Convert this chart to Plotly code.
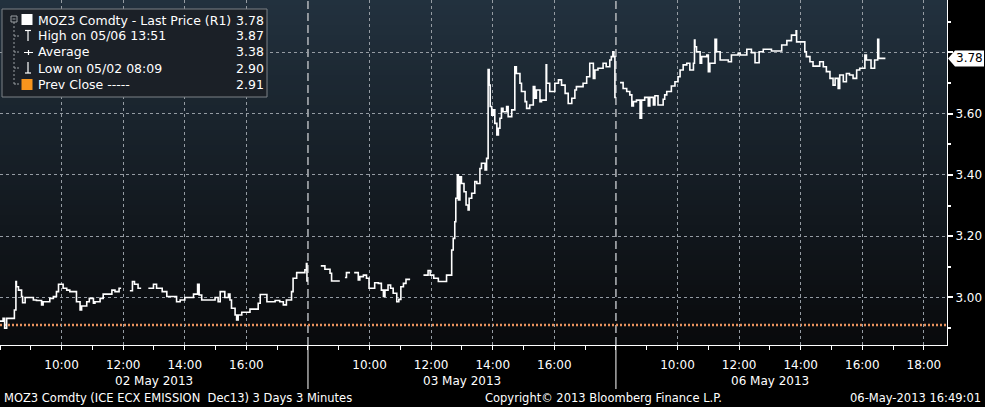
import plotly.graph_objects as go

# ---------------- data ----------------
day_labels = ["02 May 2013", "03 May 2013", "06 May 2013"]

day1_times = ["08:00", "08:06", "08:09", "08:13", "08:28", "08:31", "08:32", "08:36", "08:42", "08:44",
              "08:49", "09:05", "09:11", "09:21", "09:24", "09:37", "09:44", "09:50", "09:54", "10:03",
              "10:10", "10:16", "10:29", "10:36", "10:39", "10:49", "10:54", "11:02", "11:05", "11:15",
              "11:21", "11:38", "11:44", "11:52", "11:56", "11:57", "12:13", "12:18", "12:22", "12:29",
              "12:35", "12:36", "12:49", "12:59", "13:05", "13:16", "13:25", "13:44", "13:51", "14:00",
              "14:17", "14:25", "14:28", "14:33", "14:59", "15:05", "15:09", "15:18", "15:25", "15:28",
              "15:31", "15:38", "15:41", "15:44", "15:51", "16:07", "16:23", "16:27", "16:40", "16:56",
              "17:05", "17:12", "17:18", "17:28", "17:31", "17:38", "17:54", "17:57", "17:58", "18:00"]
day1_prices = [2.923, 2.932, 2.900, 2.932, 2.959, 3.052, 3.035, 3.024, 3.003, 2.983,
               3.000, 2.992, 2.990, 2.976, 2.986, 2.997, 3.003, 3.019, 3.043, 3.030,
               3.024, 3.019, 2.986, 2.959, 2.972, 2.986, 2.997, 2.981, 2.986, 2.997,
               3.011, 3.024, 3.019, 3.030, 3.030, None, 3.022, 3.052, 3.043, 3.030,
               3.030, None, 3.030, 3.043, 3.030, 3.019, 3.003, 2.986, 2.992, 3.000,
               3.011, 3.043, 3.008, 2.992, 3.000, 2.986, 3.019, 3.000, 3.011, 2.992,
               2.965, 2.943, 2.927, 2.943, 2.952, 2.962, 2.981, 3.010, 2.986, 2.990,
               2.986, 2.976, 2.992, 3.019, 3.063, 3.081, 3.090, 3.111, 3.054, 3.054]

day2_times = ["08:25", "08:33", "08:43", "08:46", "09:02", "09:03", "09:12", "09:15", "09:22", "09:23",
              "09:30", "09:38", "09:41", "09:48", "09:54", "09:59", "10:10", "10:17", "10:23", "10:27",
              "10:30", "10:36", "10:41", "10:46", "10:53", "10:57", "11:01", "11:06", "11:11", "11:19",
              "11:20", "11:45", "11:54", "11:58", "12:05", "12:14", "12:20", "12:30", "12:40", "12:43",
              "12:46", "12:48", "12:51", "12:53", "12:56", "12:59", "13:04", "13:08", "13:12", "13:14",
              "13:19", "13:25", "13:29", "13:35", "13:38", "13:45", "13:48", "13:51", "13:53", "13:55",
              "13:58", "14:01", "14:04", "14:08", "14:11", "14:14", "14:17", "14:20", "14:27", "14:30",
              "14:37", "14:43", "14:46", "14:53", "14:56", "15:03", "15:06", "15:12", "15:19", "15:22",
              "15:25", "15:32", "15:35", "15:44", "15:45", "15:51", "16:01", "16:08", "16:14", "16:21",
              "16:27", "16:34", "16:40", "16:43", "16:56", "17:03", "17:09", "17:16", "17:19", "17:25",
              "17:35", "17:41", "17:48", "17:51", "17:54", "17:56", "17:58", "18:00"]
day2_prices = [3.103, 3.092, 3.079, 3.054, 3.054, None, 3.065, 3.081, 3.081, None,
               3.081, 3.057, 3.068, 3.073, 3.063, 3.030, 3.048, 3.046, 3.024, 3.003,
               3.024, 3.041, 3.030, 3.014, 2.986, 2.994, 3.035, 3.046, 3.059, 3.059,
               None, 3.073, 3.088, 3.073, 3.063, 3.052, 3.052, 3.073, 3.155, 3.193,
               3.247, 3.324, 3.400, 3.318, 3.394, 3.372, 3.345, 3.302, 3.286, 3.324,
               3.340, 3.378, 3.372, 3.421, 3.438, 3.416, 3.454, 3.744, 3.693, 3.623,
               3.595, 3.612, 3.568, 3.530, 3.552, 3.585, 3.617, 3.606, 3.623, 3.590,
               3.612, 3.753, 3.731, 3.699, 3.672, 3.639, 3.617, 3.628, 3.688, 3.650,
               3.677, 3.639, 3.644, 3.759, 3.699, 3.672, 3.699, 3.710, 3.693, 3.666,
               3.633, 3.650, 3.677, 3.688, 3.699, 3.720, 3.764, 3.715, 3.742, 3.748,
               3.764, 3.753, 3.775, 3.786, 3.802, 3.786, 3.653, 3.653]

day3_times = ["08:08", "08:14", "08:21", "08:27", "08:31", "08:34", "08:40", "08:47", "08:50", "08:56",
              "09:03", "09:06", "09:13", "09:16", "09:22", "09:32", "09:35", "09:39", "09:48", "09:55",
              "10:01", "10:05", "10:11", "10:18", "10:24", "10:31", "10:33", "10:34", "10:37", "10:44",
              "10:47", "10:57", "11:00", "11:03", "11:13", "11:16", "11:23", "11:39", "11:45", "11:58",
              "12:02", "12:15", "12:24", "12:31", "12:39", "12:47", "13:03", "13:23", "13:33", "13:42",
              "13:51", "13:52", "14:08", "14:11", "14:18", "14:24", "14:37", "14:44", "14:50", "14:57",
              "15:03", "15:07", "15:13", "15:16", "15:23", "15:29", "15:35", "15:42", "15:49", "15:55",
              "16:05", "16:08", "16:17", "16:24", "16:30", "16:32", "16:45"]
day3_prices = [3.701, 3.682, 3.672, 3.661, 3.625, 3.639, 3.644, 3.585, 3.644, 3.653,
               3.625, 3.653, 3.628, 3.658, 3.628, 3.647, 3.661, 3.672, 3.690, 3.704,
               3.720, 3.742, 3.759, 3.764, 3.742, 3.764, 3.840, 3.818, 3.802, 3.764,
               3.786, 3.791, 3.737, 3.764, 3.842, 3.802, 3.775, 3.769, 3.791, 3.797,
               3.791, 3.810, 3.799, 3.766, 3.802, 3.810, 3.804, 3.824, 3.838, 3.856,
               3.870, 3.834, 3.802, 3.786, 3.769, 3.755, 3.769, 3.753, 3.737, 3.715,
               3.693, 3.715, 3.682, 3.726, 3.704, 3.731, 3.726, 3.715, 3.742, 3.748,
               3.791, 3.775, 3.748, 3.775, 3.842, 3.780, 3.780]

tick_hours = ["10:00", "12:00", "14:00", "16:00", "18:00"]
y_ticks = [3.0, 3.2, 3.4, 3.6, 3.8]
y_ticktext = ["3.00", "3.20", "3.40", "3.60", ""]

last_price = 3.78
high_price = 3.87
avg_price = 3.38
low_price = 2.90
prev_close = 2.91

legend_rows = ["MOZ3 Comdty - Last Price (R1)", "High on 05/06 13:51", "Average",
               "Low on 05/02 08:09", "Prev Close -----"]
legend_vals = [last_price, high_price, avg_price, low_price, prev_close]

# ---------------- layout constants ----------------
W, H = 985, 407
PW, PH = 947, 345          # plot area in pixels
SESSION_START, SESSION_LEN = 8, 10   # each day shown 08:00-18:00
X_MAX = 30.75
Y_MIN, Y_MAX = 2.845, 3.9706
FONT = "DejaVu Sans"


def px(x):
    return x / PW


def py(y):
    return 1 - y / PH


def to_x(day_idx, t):
    h, m = t.split(":")
    return day_idx * SESSION_LEN + int(h) + int(m) / 60 - SESSION_START


fig = go.Figure()

for d, (times, prices) in enumerate([(day1_times, day1_prices),
                                      (day2_times, day2_prices),
                                      (day3_times, day3_prices)]):
    fig.add_trace(go.Scatter(
        x=[to_x(d, t) for t in times], y=prices, mode="lines",
        line=dict(color="white", width=1.6, shape="hv"),
        connectgaps=False, showlegend=False, hoverinfo="skip"))

shapes = []
# background gradient
top = (34, 49, 62)
bot = (9, 10, 12)
n = 69
for i in range(n):
    f = i / (n - 1)
    c = tuple(round(top[k] + (bot[k] - top[k]) * f) for k in range(3))
    shapes.append(dict(type="rect", xref="paper", yref="paper", x0=0, x1=1,
                       y0=1 - (i + 1) / n, y1=1 - i / n, layer="below",
                       fillcolor="rgb(%d,%d,%d)" % c, line=dict(width=0)))

# day separators
for d in (1, 2):
    xs = d * SESSION_LEN
    shapes.append(dict(type="line", xref="x", yref="paper", x0=xs, x1=xs, y0=0, y1=1,
                       layer="below", line=dict(color="#b4b8bc", width=1.5, dash="8px,4px")))
    shapes.append(dict(type="line", xref="x", yref="paper", x0=xs, x1=xs, y0=py(389), y1=0,
                       line=dict(color="white", width=1)))

# previous close line
shapes.append(dict(type="line", xref="paper", yref="y", x0=0, x1=1, y0=prev_close, y1=prev_close,
                   layer="between", line=dict(color="#e8925e", width=2.5, dash="2px,2px")))

# last-price label on the right axis
dy = 8 / PH * (Y_MAX - Y_MIN)
shapes.append(dict(type="path", xref="paper", yref="y",
                   path="M %f,%f L %f,%f L %f,%f L %f,%f L %f,%f Z" % (
                       px(948), last_price, px(955), last_price + dy, px(984), last_price + dy,
                       px(984), last_price - dy, px(955), last_price - dy),
                   fillcolor="white", line=dict(width=0)))

# legend box
shapes.append(dict(type="rect", xref="paper", yref="paper", x0=px(2), x1=px(267),
                   y0=py(97), y1=py(9), layer="above", fillcolor="#1b2027",
                   line=dict(color="#7c8187", width=1)))
gray = "#9a9ea3"
# tree: collapse box and connectors
shapes.append(dict(type="rect", xref="paper", yref="paper", x0=px(11), x1=px(17), y0=py(22), y1=py(16),
                   layer="above", line=dict(color=gray, width=1)))
shapes.append(dict(type="line", xref="paper", yref="paper", x0=px(12.5), x1=px(15.5), y0=py(19), y1=py(19),
                   layer="above", line=dict(color=gray, width=1)))
shapes.append(dict(type="line", xref="paper", yref="paper", x0=px(14), x1=px(14), y0=py(84), y1=py(22),
                   layer="above", line=dict(color=gray, width=1, dash="2px,2px")))
row_y = [20, 36, 52, 68, 84]
for ry in row_y[1:]:
    shapes.append(dict(type="line", xref="paper", yref="paper", x0=px(14), x1=px(19), y0=py(ry), y1=py(ry),
                       layer="above", line=dict(color=gray, width=1, dash="2px,1px")))
# icons
shapes.append(dict(type="rect", xref="paper", yref="paper", x0=px(21.5), x1=px(32.5), y0=py(25), y1=py(14),
                   layer="above", fillcolor="white", line=dict(width=0)))
shapes.append(dict(type="line", xref="paper", yref="paper", x0=px(25), x1=px(31), y0=py(30.5), y1=py(30.5),
                   layer="above", line=dict(color="white", width=1.2)))
shapes.append(dict(type="line", xref="paper", yref="paper", x0=px(28), x1=px(28), y0=py(41), y1=py(30.5),
                   layer="above", line=dict(color="white", width=1.2)))
shapes.append(dict(type="line", xref="paper", yref="paper", x0=px(24), x1=px(33), y0=py(52.5), y1=py(52.5),
                   layer="above", line=dict(color="white", width=1)))
shapes.append(dict(type="line", xref="paper", yref="paper", x0=px(28.5), x1=px(28.5), y0=py(55), y1=py(50),
                   layer="above", line=dict(color="white", width=1.2)))
shapes.append(dict(type="line", xref="paper", yref="paper", x0=px(28), x1=px(28), y0=py(73), y1=py(62),
                   layer="above", line=dict(color="white", width=1.2)))
shapes.append(dict(type="line", xref="paper", yref="paper", x0=px(25), x1=px(31), y0=py(73), y1=py(73),
                   layer="above", line=dict(color="white", width=1.2)))
shapes.append(dict(type="rect", xref="paper", yref="paper", x0=px(21.5), x1=px(32.5), y0=py(90), y1=py(79),
                   layer="above", fillcolor="#f7941d", line=dict(width=0)))

annotations = []
for label, val, ry in zip(legend_rows, legend_vals, row_y):
    annotations.append(dict(text=label, xref="paper", yref="paper", x=px(36), y=py(ry),
                            xanchor="left", yanchor="middle", showarrow=False,
                            font=dict(family=FONT, size=12.5, color="white")))
    annotations.append(dict(text="%.2f" % val, xref="paper", yref="paper", x=px(234), y=py(ry),
                            xanchor="left", yanchor="middle", showarrow=False,
                            font=dict(family=FONT, size=12.5, color="white")))

# date labels under each session
for d, lab in enumerate(day_labels):
    annotations.append(dict(text=lab, xref="x", yref="paper", x=d * SESSION_LEN + SESSION_LEN / 2,
                            y=py(381), xanchor="center", yanchor="middle", showarrow=False,
                            font=dict(family=FONT, size=12, color="white")))

# footer
annotations.append(dict(text="MOZ3 Comdty (ICE ECX EMISSION  Dec13) 3 Days 3 Minutes", xref="paper",
                        yref="paper", x=px(2), y=py(398), xanchor="left", yanchor="middle",
                        showarrow=False, font=dict(family=FONT, size=11.5, color="white")))
annotations.append(dict(text="Copyright\u00a9 2013 Bloomberg Finance L.P.", xref="paper", yref="paper",
                        x=px(483), y=py(398), xanchor="left", yanchor="middle", showarrow=False,
                        font=dict(family=FONT, size=11.5, color="white")))
annotations.append(dict(text="06-May-2013 16:49:01", xref="paper", yref="paper", x=px(983), y=py(398),
                        xanchor="right", yanchor="middle", showarrow=False,
                        font=dict(family=FONT, size=11.5, color="white")))
# last price label text
annotations.append(dict(text="%.2f" % last_price, xref="paper", yref="y", x=px(969.5), y=last_price,
                        xanchor="center", yanchor="middle", showarrow=False,
                        font=dict(family=FONT, size=12, color="black")))

# x ticks: 10:00..16:00 each day (18:00 coincides with the day break, except the last day)
x_tickvals, x_ticktext = [], []
for d in range(3):
    for t in tick_hours:
        xv = to_x(d, t)
        last_day = d == 2
        if (xv < (d + 1) * SESSION_LEN - 0.01 or last_day) and xv <= X_MAX:
            x_tickvals.append(xv)
            x_ticktext.append(t)

fig.update_layout(
    width=W, height=H,
    margin=dict(l=0, r=W - PW, t=0, b=H - PH, autoexpand=False),
    paper_bgcolor="black", plot_bgcolor="black",
    shapes=shapes, annotations=annotations,
    showlegend=False,
    xaxis=dict(range=[0, X_MAX], tickmode="array", tickvals=x_tickvals, ticktext=x_ticktext,
               showgrid=True, gridcolor="#959ca3", griddash="dot", gridwidth=1,
               zeroline=False, showline=True, linecolor="white", linewidth=1,
               ticks="outside", ticklen=4, tickcolor="white", ticklabelstandoff=5,
               tickfont=dict(family=FONT, size=12, color="white"), automargin=False,
               minor=dict(tickmode="linear", tick0=0, dtick=1, ticks="outside", ticklen=4,
                          tickcolor="white", showgrid=False)),
    yaxis=dict(range=[Y_MIN, Y_MAX], side="right", tickmode="array", tickvals=y_ticks,
               ticktext=y_ticktext, showgrid=True, gridcolor="#959ca3", griddash="dot", gridwidth=1,
               zeroline=False, showline=True, linecolor="white", linewidth=1,
               ticks="outside", ticklen=5, tickwidth=2, tickcolor="white",
               tickfont=dict(family=FONT, size=12, color="white"), automargin=False,
               minor=dict(tickmode="linear", tick0=2.9, dtick=0.2, ticks="outside", ticklen=3,
                          tickcolor="white", showgrid=False)),
)

fig.write_html("out.html", config={"displayModeBar": False},
               post_script="document.body.style.margin='0';document.body.style.background='black';")
